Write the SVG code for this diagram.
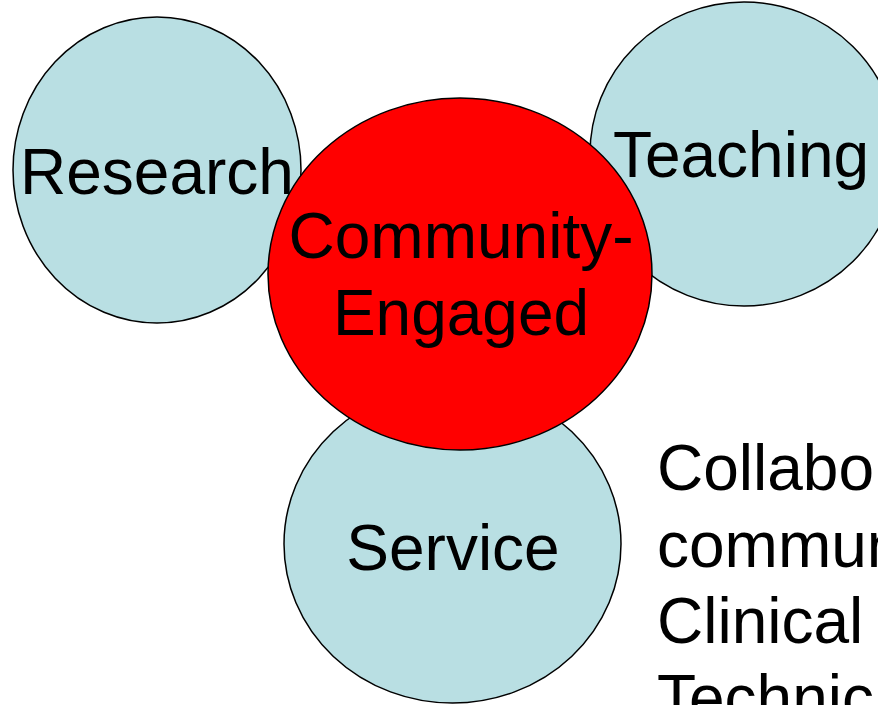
<svg xmlns="http://www.w3.org/2000/svg" width="878" height="705" viewBox="0 0 878 705">
  <style>
    .bubble { fill: #B9DFE3; stroke: #000; stroke-width: 1.5; }
    .core { fill: #FF0000; stroke: #000; stroke-width: 1.5; }
    .label { font-family: "Liberation Sans", Arial, sans-serif; font-size: 64px; fill: #000; text-anchor: middle; }
    .body { font-family: "Liberation Sans", Arial, sans-serif; font-size: 64px; fill: #000; }
  </style>
  <rect width="878" height="705" fill="#FFFFFF"/>

  <!-- outer activity circles -->
  <g id="research">
    <ellipse class="bubble" cx="157" cy="170" rx="144" ry="153"/>
  </g>
  <g id="teaching">
    <ellipse class="bubble" cx="744" cy="154" rx="154" ry="152"/>
  </g>
  <g id="service">
    <ellipse class="bubble" cx="452.5" cy="544" rx="168.5" ry="159"/>
  </g>

  <!-- central circle -->
  <g id="community-engaged">
    <ellipse class="core" cx="460" cy="274" rx="192" ry="176"/>
  </g>

  <!-- labels -->
  <g id="labels">
    <text class="label" x="157" y="194">Research</text>
    <text class="label" x="741" y="177">Teaching</text>
    <text class="label" x="461" y="258">Community-</text>
    <text class="label" x="461" y="335">Engaged</text>
    <text class="label" x="453" y="570">Service</text>
  </g>

  <!-- side text running off the right edge -->
  <g id="side-text">
    <text class="body" x="657" y="490">Collabo</text>
    <text class="body" x="657" y="567">commun</text>
    <text class="body" x="657" y="643">Clinical</text>
    <text class="body" x="657" y="720">Technic</text>
  </g>
</svg>
